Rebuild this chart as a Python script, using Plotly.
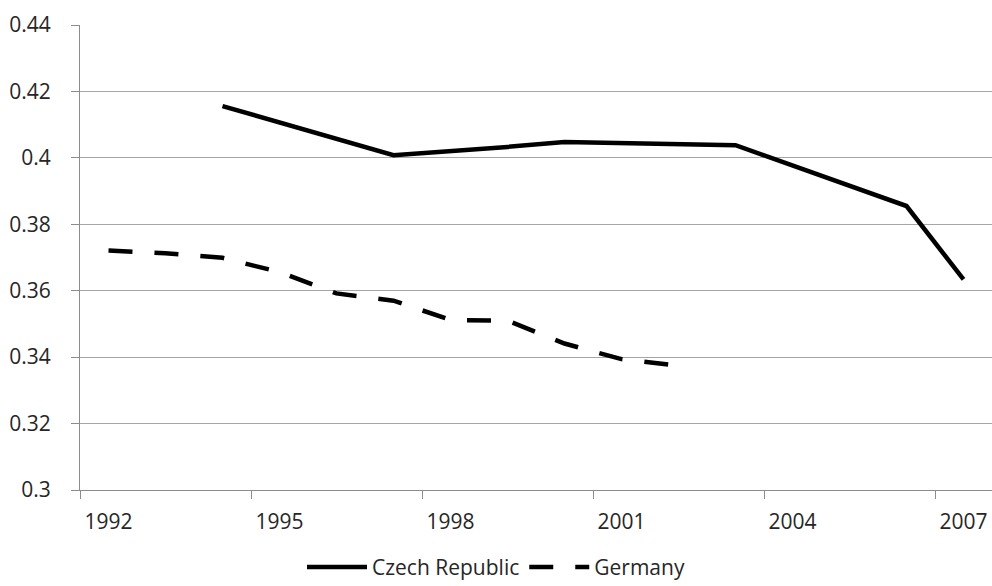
import plotly.graph_objects as go

years = [str(y) for y in range(1992, 2008)]

czech_values = [None, None, 0.4156, None, None, 0.4008, None, 0.4033, 0.4048,
                None, None, 0.4038, None, None, 0.3855, 0.3634]
germany_values = [0.3721, 0.3713, 0.3699, 0.3656, 0.3592, 0.3570, 0.3512, 0.3510,
                  0.3441, 0.3394, 0.3374, None, None, None, None, None]

y_ticks = [0.3, 0.32, 0.34, 0.36, 0.38, 0.4, 0.42, 0.44]
y_tick_text = ["0.3", "0.32", "0.34", "0.36", "0.38", "0.4", "0.42", "0.44"]

FONT = "Open Sans"
TEXT = "#262626"
GRID = "#a6a6a6"
AXIS = "#8c8c8c"

fig = go.Figure()
fig.add_trace(go.Scatter(
    x=years, y=czech_values, name="Czech Republic", mode="lines",
    connectgaps=True, line=dict(color="black", width=4.5)))
fig.add_trace(go.Scatter(
    x=years, y=germany_values, name="Germany", mode="lines",
    connectgaps=True, line=dict(color="black", width=4.5, dash="24px,22px")))

fig.update_layout(
    template="none",
    width=992, height=586,
    margin=dict(l=80, r=0, t=25, b=96, autoexpand=False),
    paper_bgcolor="white", plot_bgcolor="white",
    font=dict(family=FONT, size=21, color=TEXT),
    showlegend=True,
    legend=dict(orientation="h", xref="container", yref="container",
                x=0.5, xanchor="center", y=0.032, yanchor="middle",
                itemwidth=60, font=dict(size=21, color=TEXT),
                bgcolor="rgba(0,0,0,0)"),
    xaxis=dict(type="category", categoryorder="array", categoryarray=years,
               range=[-0.5, 15.5], tickmode="linear", tick0=0, dtick=3,
               tickson="boundaries", ticks="outside", ticklen=8,
               tickcolor=AXIS, tickwidth=1, showline=True, linecolor=AXIS,
               linewidth=1, showgrid=False, ticklabelstandoff=13,
               automargin=False, tickfont=dict(size=21, color=TEXT)),
    yaxis=dict(range=[0.3, 0.44], tickmode="array", tickvals=y_ticks,
               ticktext=y_tick_text, ticks="outside", ticklen=8,
               tickcolor=AXIS, tickwidth=1, showline=True, linecolor=AXIS,
               linewidth=1, showgrid=True, gridcolor=GRID, gridwidth=1,
               zeroline=False, ticklabelstandoff=16, automargin=False,
               tickfont=dict(size=21, color=TEXT)),
)

fig.write_html("out.html",
               config={"displayModeBar": False, "staticPlot": True},
               post_script="document.body.style.margin='0px';"
                           "document.body.style.overflow='hidden';")
